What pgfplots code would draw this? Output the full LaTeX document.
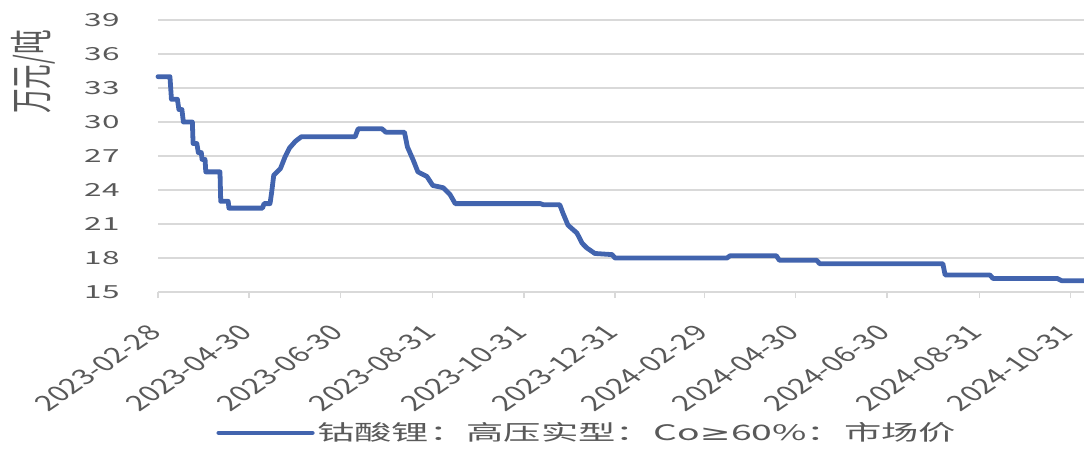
\documentclass[border=0pt]{standalone}
\usepackage{pgfplots}
\pgfplotsset{compat=1.18}
\usepackage{fontspec}
\setmainfont{Noto Sans CJK SC}
\newfontfamily\dv{DejaVu Sans}
\definecolor{lineblue}{RGB}{66,100,174}
\definecolor{txtgray}{RGB}{89,89,89}
\definecolor{gridgray}{RGB}{217,217,217}
\newcommand{\dl}[1]{\scalebox{1.48}[1]{\rotatebox{45}{#1}}}
\newcommand{\sy}[1]{\scalebox{1.75}[1]{#1}}
\begin{document}
\begin{tikzpicture}
\begin{axis}[
  name=ax,
  scale only axis,
  width=694.5pt, height=204pt,
  xmin=0, xmax=620,
  ymin=15, ymax=39,
  axis x line*=bottom, axis y line*=left,
  y axis line style={draw=none},
  x axis line style={draw=gridgray, line width=1pt},
  ytick={15,18,21,24,27,30,33,36,39},
  yticklabels={\sy{15},\sy{18},\sy{21},\sy{24},\sy{27},\sy{30},\sy{33},\sy{36},\sy{39}},
  ymajorgrids,
  grid style={draw=gridgray, line width=1pt},
  ytick style={draw=none},
  xtick={0,61,122,184,245,306,366,427,488,550,611},
  xticklabels={\dl{2023-02-28},\dl{2023-04-30},\dl{2023-06-30},\dl{2023-08-31},\dl{2023-10-31},\dl{2023-12-31},\dl{2024-02-29},\dl{2024-04-30},\dl{2024-06-30},\dl{2024-08-31},\dl{2024-10-31}},
  xtick style={draw=gridgray, line width=1pt},
  tick align=outside,
  major tick length=4.5pt,
  yticklabel style={font=\fontsize{13.5}{16}\selectfont, text=txtgray, anchor=east, inner sep=0pt, xshift=-24pt},
  xticklabel style={font=\fontsize{16}{18}\selectfont, text=txtgray, anchor=north east, inner sep=0pt, xshift=4pt, yshift=-19pt},
  ylabel={\scalebox{1}[1.75]{万元/吨}},
  ylabel style={font=\fontsize{18.5}{20}\selectfont, text=txtgray, at={(rel axis cs:-0.135,0.809)}, anchor=center},
  legend style={at={(rel axis cs:0.464,-0.518)}, anchor=center, draw=none, fill=none, font=\fontsize{16}{18}\selectfont, text=txtgray},
  legend image code/.code={\draw[#1, line width=3.6pt] (0pt,0pt) -- (70pt,0pt);},
  legend cell align=left,
  clip=false,
]
\addplot[lineblue, line width=3.6pt, line join=round, line cap=round] table {
x y
0 34.0
8 34.0
9 32.0
13 32.0
14 31.1
16 31.1
17 30.0
23 30.0
23.5 28.1
26 28.1
27 27.3
29 27.3
29.5 26.7
31.5 26.7
32 25.6
41.5 25.6
42 23.0
47 23.0
47.5 22.4
70 22.4
71 22.8
75 22.8
76 23.7
77.5 25.3
82 25.9
85 26.9
88 27.7
92 28.3
96 28.7
132 28.7
134 29.4
150 29.4
152.5 29.1
165 29.1
167 27.8
171 26.6
174 25.6
180 25.2
184 24.4
191 24.2
195.5 23.6
199 22.8
256 22.8
258 22.7
269 22.7
271 22.0
274.5 20.9
280.5 20.2
284 19.3
287 18.9
292.5 18.4
304 18.3
306 18.0
381 18.0
383 18.2
414 18.2
416 17.8
441 17.8
443 17.5
525.5 17.5
527 16.5
557 16.5
559 16.2
602 16.2
605 16.0
620 16.0
};
\addlegendentry{\sy{钴酸锂：高压实型：Co{\dv ≥}60\%：市场价}}
\end{axis}
\pgfresetboundingbox
\path ([xshift=-118.5pt,yshift=-117.75pt]ax.south west) rectangle ([yshift=15pt]ax.north east);
\end{tikzpicture}
\end{document}
